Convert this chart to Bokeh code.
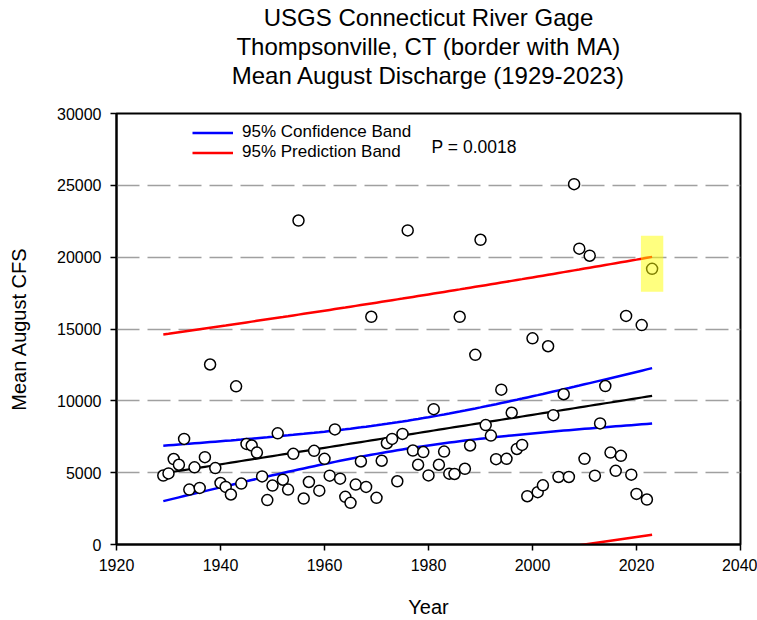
import numpy as np
from bokeh.plotting import figure
from bokeh.models import FixedTicker, Legend, LegendItem, Label, Title
from bokeh.embed import file_html
from bokeh.resources import INLINE

# Mean August discharge (cfs), Connecticut River at Thompsonville, CT
years = list(range(1929, 2024))
flow = [
    4800, 4950, 5950, 5550, 7350, 3820, 5370, 3940, 6080, 12530,
    5320, 4280, 4010, 3480, 11010, 4240, 7000, 6890, 6400, 4740,
    3090, 4100, 7740, 4510, 3820, 6310, 22550, 3200, 4350, 6520,
    3750, 5960, 4790, 8010, 4580, 3320, 2900, 4170, 5780, 4010,
    15850, 3250, 5830, 7050, 7350, 4400, 7700, 21860, 6540, 5550,
    6430, 4810, 9420, 5550, 6470, 4930, 4910, 15850, 5270, 6890,
    13200, 21210, 8310, 7580, 5940, 10780, 5960, 9170, 6650, 6930,
    3360, 14350, 3640, 4120, 13800, 9000, 4700, 10460, 4700, 25080,
    20590, 5960, 20100, 4790, 8430, 11030, 6400, 5130, 6170, 15910,
    4860, 3520, 15270, 3130, 19190,
]
x_ticks = [1920, 1940, 1960, 1980, 2000, 2020, 2040]
y_ticks = [0, 5000, 10000, 15000, 20000, 25000, 30000]
title_lines = [
    "USGS Connecticut River Gage",
    "Thompsonville, CT (border with MA)",
    "Mean August Discharge (1929-2023)",
]
p_value_text = "P = 0.0018"
highlight_year = 2023

# Linear regression with 95% confidence and prediction bands
x = np.array(years, dtype=float)
y = np.array(flow, dtype=float)
n = len(x)
slope, intercept = np.polyfit(x, y, 1)
fit = intercept + slope * x
s = np.sqrt(np.sum((y - fit) ** 2) / (n - 2))
t_crit = 1.9858  # Student t, 0.975 quantile, df = 93
xbar = x.mean()
sxx = np.sum((x - xbar) ** 2)
conf = t_crit * s * np.sqrt(1.0 / n + (x - xbar) ** 2 / sxx)
pred = t_crit * s * np.sqrt(1.0 + 1.0 / n + (x - xbar) ** 2 / sxx)

p = figure(
    width=757, height=620,
    x_range=(1920, 2040), y_range=(0, 30000),
    output_backend="svg", toolbar_location=None,
    min_border_left=116, min_border_right=17,
    min_border_top=113, min_border_bottom=73,
)
p.background_fill_color = "white"
p.border_fill_color = "white"
p.outline_line_color = "black"
p.outline_line_width = 2
p.title.visible = False

# Empty spacer between the plot frame and the title block
p.add_layout(Title(text=" ", text_font_size="2px", standoff=21), "above")
# Three centred title lines, the one nearest the plot added first
for line in reversed(title_lines):
    p.add_layout(Title(text=line, align="center", standoff=0,
                       text_font="Liberation Sans", text_font_size="24px",
                       text_font_style="normal", text_color="black",
                       text_line_height=0.95),
                 "above")

for ax in (p.xaxis[0], p.yaxis[0]):
    ax.axis_line_width = 2
    ax.axis_line_color = "black"
    ax.major_tick_line_width = 1.5
    ax.major_tick_out = 6
    ax.major_tick_in = 0
    ax.minor_tick_line_color = None
    ax.major_label_text_font = "Liberation Sans"
    ax.major_label_text_font_size = "16px"
    ax.major_label_text_color = "black"
    ax.axis_label_text_font = "Liberation Sans"
    ax.axis_label_text_font_size = "20px"
    ax.axis_label_text_font_style = "normal"
    ax.axis_label_text_color = "black"

p.xaxis.ticker = FixedTicker(ticks=x_ticks)
p.yaxis.ticker = FixedTicker(ticks=y_ticks)
p.xaxis.axis_label = "Year"
p.yaxis.axis_label = "Mean August CFS"
p.xaxis.major_label_standoff = 8
p.xaxis.axis_label_standoff = 22
p.yaxis.major_label_standoff = 9
p.yaxis.axis_label_standoff = 24

p.xgrid.visible = False
p.ygrid.ticker = FixedTicker(ticks=y_ticks[1:-1])
p.ygrid.grid_line_color = "#a0a0a0"
p.ygrid.grid_line_width = 1.5
p.ygrid.grid_line_dash = "23 8"

# Bands and regression line
r_pred_hi = p.line(x, fit + pred, line_color="#ff0000", line_width=2.5)
p.line(x, fit - pred, line_color="#ff0000", line_width=2.5)
r_conf_hi = p.line(x, fit + conf, line_color="#0000ff", line_width=2.5)
p.line(x, fit - conf, line_color="#0000ff", line_width=2.5)
p.line(x, fit, line_color="black", line_width=2.2)

# Observations
p.scatter(years, flow, size=11, marker="circle", fill_color="white",
          line_color="black", line_width=1.5)

# Highlight around the latest year
hl_value = flow[years.index(highlight_year)]
p.rect(x=[highlight_year], y=[hl_value + 350], width=4.3, height=3900,
       fill_color="#ffff00", fill_alpha=0.5, line_color=None)

legend = Legend(
    items=[LegendItem(label="95% Confidence Band", renderers=[r_conf_hi]),
           LegendItem(label="95% Prediction Band", renderers=[r_pred_hi])],
    location=(76, 382), orientation="vertical",
    padding=0, margin=0, spacing=0,
    glyph_width=41, glyph_height=19, label_height=19, label_standoff=9,
    border_line_alpha=0, background_fill_alpha=0,
    label_text_font="Liberation Sans", label_text_font_size="17px",
    label_text_color="black",
)
p.add_layout(legend)

p.add_layout(Label(x=1980.6, y=27700, text=p_value_text,
                   text_font="Liberation Sans", text_font_size="17.5px",
                   text_baseline="middle", text_color="black"))

open("out.html", "w").write(file_html(p, INLINE))
